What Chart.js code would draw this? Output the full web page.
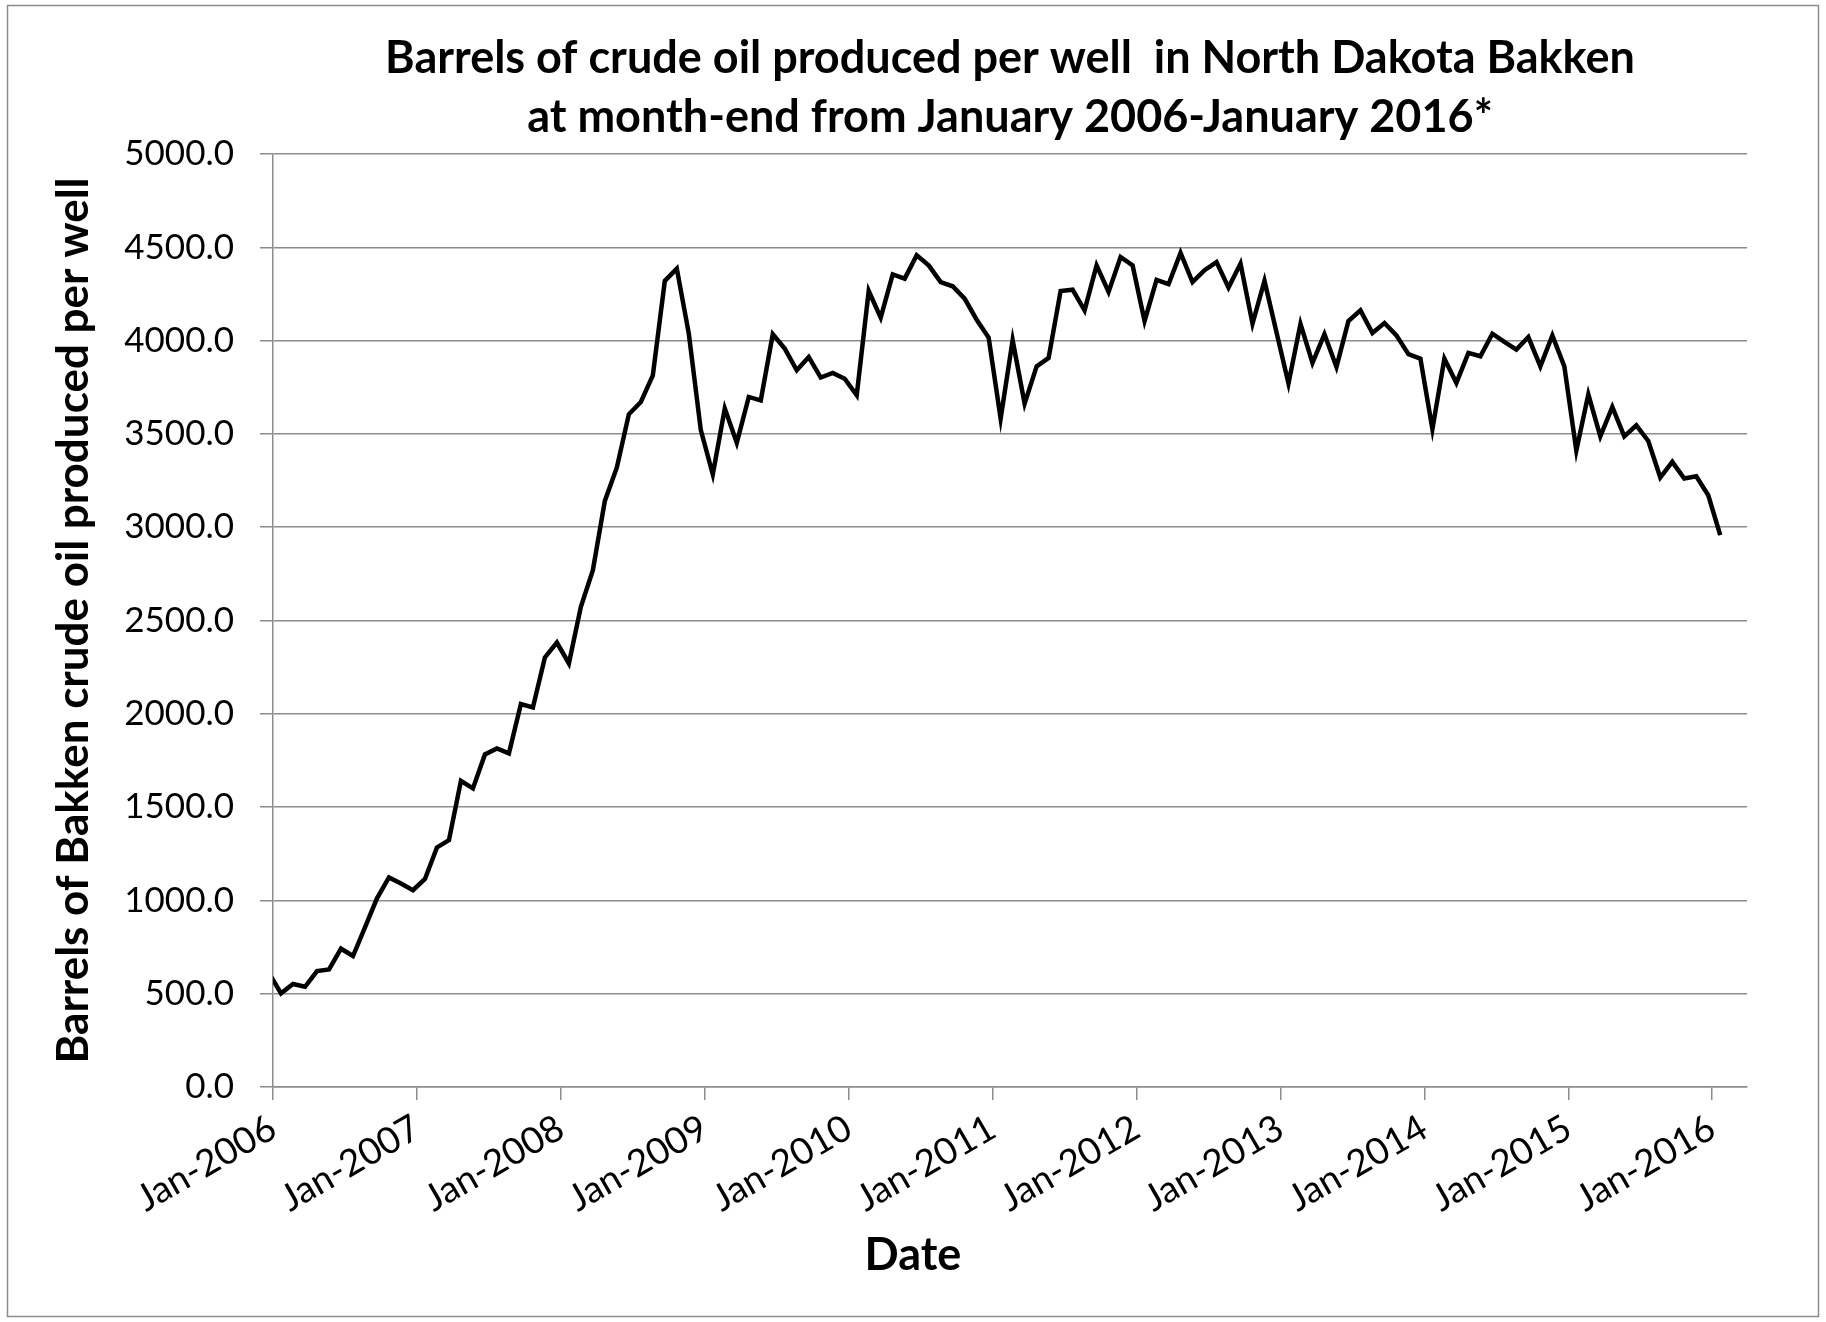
<!DOCTYPE html>
<html>
<head>
<meta charset="utf-8">
<script src="https://cdn.jsdelivr.net/npm/chart.js@4.4.0/dist/chart.umd.min.js"></script>
<style>
  html, body { margin: 0; padding: 0; background: #fff; }
  #wrap { width: 1826px; height: 1322px; }
</style>
</head>
<body>
<div id="wrap"><canvas id="myChart"></canvas></div>
<script>
// month-end readings, Dec 2005 .. Jan 2016 (barrels per well)
const firstMonth = -1; // Dec 2005, months counted from Jan 2006
const barrels = [
  610,
  502, 552, 537, 621, 630, 741, 702, 855, 1011, 1123, 1090, 1055,
  1115, 1284, 1323, 1641, 1600, 1782, 1814, 1788, 2052, 2034, 2302, 2382,
  2270, 2573, 2770, 3141, 3320, 3605, 3671, 3814, 4320, 4386, 4037, 3520,
  3283, 3636, 3452, 3698, 3680, 4034, 3957, 3841, 3912, 3802, 3827, 3796,
  3707, 4266, 4123, 4355, 4332, 4457, 4403, 4314, 4291, 4225, 4112, 4016,
  3582, 4002, 3662, 3862, 3907, 4266, 4273, 4162, 4403, 4261, 4448, 4403,
  4105, 4325, 4302, 4470, 4314, 4377, 4421, 4284, 4413, 4091, 4320, 4045,
  3770, 4090, 3880, 4034, 3859, 4105, 4162, 4041, 4094, 4028, 3927, 3903,
  3526, 3903, 3773, 3934, 3916, 4037, 3993, 3952, 4019, 3862, 4028, 3862,
  3410, 3712, 3487, 3644, 3487, 3546, 3462, 3266, 3350, 3261, 3273, 3171,
  2957
];
const xTickLabels = ['Jan-2006', 'Jan-2007', 'Jan-2008', 'Jan-2009', 'Jan-2010', 'Jan-2011',
  'Jan-2012', 'Jan-2013', 'Jan-2014', 'Jan-2015', 'Jan-2016'];
const yTicks = [0, 500, 1000, 1500, 2000, 2500, 3000, 3500, 4000, 4500, 5000];

const titleLines = ['Barrels of crude oil produced per well  in North Dakota Bakken',
  'at month-end from January 2006-January 2016*'];
const yTitle = 'Barrels of Bakken crude oil produced per well';
const xTitle = 'Date';

const FONT = 'Lato';
const GRID = '#8c8c8c';
const readingPos = 0.67; // where a month's reading sits inside its month

const points = barrels.map((v, i) => ({ x: firstMonth + i + readingPos, y: v }));

// white background + thin grey chart border
const frame = {
  id: 'frame',
  beforeDraw(chart) {
    const ctx = chart.ctx;
    ctx.save();
    ctx.fillStyle = '#fff';
    ctx.fillRect(0, 0, chart.width, chart.height);
    ctx.strokeStyle = GRID;
    ctx.lineWidth = 1.5;
    ctx.strokeRect(7.5, 5.5, chart.width - 15, chart.height - 11);
    ctx.restore();
  }
};

const config = {
  type: 'line',
  data: {
    datasets: [{
      data: points,
      borderColor: '#000',
      borderWidth: 4.5,
      pointRadius: 0,
      tension: 0,
      fill: false
    }]
  },
  options: {
    responsive: true,
    maintainAspectRatio: false,
    animation: false,
    layout: { padding: { top: 0, right: 79, bottom: 0, left: 79 } },
    plugins: {
      legend: { display: false },
      tooltip: { enabled: false },
      title: {
        display: true,
        fullSize: false,
        text: titleLines,
        color: '#000',
        font: { family: FONT, size: 45, weight: 'bold', lineHeight: 1.311 },
        padding: { top: 29, bottom: 7 }
      },
      subtitle: {
        display: true,
        position: 'bottom',
        fullSize: true,
        text: xTitle,
        color: '#000',
        font: { family: FONT, size: 45, weight: 'bold', lineHeight: 1.2 },
        padding: { top: 0, bottom: 40 }
      }
    },
    scales: {
      x: {
        type: 'linear',
        position: 'bottom',
        min: 0,
        max: 122.9,
        afterBuildTicks: (scale) => {
          scale.ticks = xTickLabels.map((_, i) => ({ value: i * 12 }));
        },
        afterFit: (scale) => { scale.height = 141; },
        grid: { drawOnChartArea: false, drawTicks: true, tickLength: 13, color: GRID, lineWidth: 1.5 },
        border: { color: GRID, width: 1.5 },
        ticks: {
          autoSkip: false,
          minRotation: 30,
          maxRotation: 30,
          padding: 6,
          color: '#000',
          font: { family: FONT, size: 37 },
          callback: (v, i) => xTickLabels[i]
        }
      },
      y: {
        min: 0,
        max: 5000,
        afterBuildTicks: (scale) => {
          scale.ticks = yTicks.map(v => ({ value: v }));
        },
        afterFit: (scale) => { scale.width = 194; },
        grid: { color: GRID, lineWidth: 1.5, tickLength: 13 },
        border: { color: GRID, width: 1.5 },
        ticks: {
          padding: 26,
          color: '#000',
          font: { family: FONT, size: 35 },
          callback: (v) => v.toFixed(1)
        },
        title: {
          display: true,
          text: yTitle,
          color: '#000',
          font: { family: FONT, size: 44, weight: 'bold', lineHeight: 1.2 },
          padding: { top: -32, bottom: 0 }
        }
      }
    }
  },
  plugins: [frame]
};

const myChart = new Chart(document.getElementById('myChart'), config);
</script>
</body>
</html>
